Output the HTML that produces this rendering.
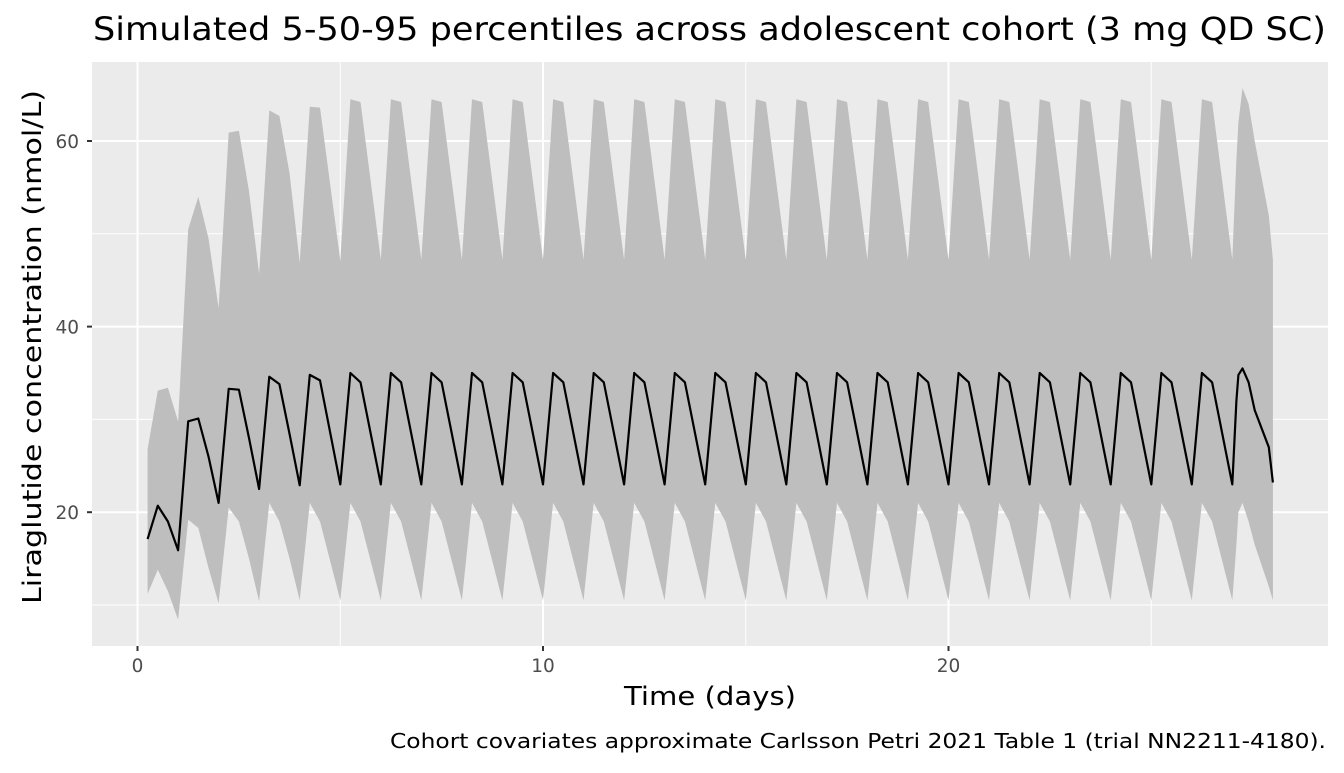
<!DOCTYPE html>
<html><head><meta charset="utf-8"><style>
body{margin:0;background:#fff;}
svg text{font-family:"DejaVu Sans","Liberation Sans",sans-serif;}
</style></head><body>
<svg id="s" width="1344" height="768" xmlns="http://www.w3.org/2000/svg">
<rect width="1344" height="768" fill="#fff"/>
<rect x="92" y="62" width="1236" height="584" fill="#ebebeb"/>
<g id="grid"></g>
<path id="band" fill="#bebebe"/>
<polyline id="med" fill="none" stroke="#000" stroke-width="2.2" stroke-linejoin="round"/>
<g id="ax" fill="#4d4d4d" font-size="18.5"></g>
<text x="93" y="40" font-size="32" fill="#000" textLength="1233" lengthAdjust="spacingAndGlyphs">Simulated 5-50-95 percentiles across adolescent cohort (3 mg QD SC)</text>
<text x="624" y="705" font-size="26" fill="#000" textLength="172" lengthAdjust="spacingAndGlyphs">Time (days)</text>
<text transform="translate(41,604) rotate(-90)" font-size="26" fill="#000" textLength="514" lengthAdjust="spacingAndGlyphs">Liraglutide concentration (nmol/L)</text>
<text x="390" y="748" font-size="20" fill="#000" textLength="936" lengthAdjust="spacingAndGlyphs">Cohort covariates approximate Carlsson Petri 2021 Table 1 (trial NN2211-4180).</text>
</svg>
<script>
var X=function(t){return 137.5+t*40.55},Y=function(v){return 141+(60-v)*9.28};
var g='';
[5,15,25].forEach(function(t){g+='<line x1="'+X(t)+'" x2="'+X(t)+'" y1="62" y2="646" stroke="#fff" stroke-width="1"/>'});
[10,30,50].forEach(function(v){g+='<line y1="'+Y(v)+'" y2="'+Y(v)+'" x1="92" x2="1328" stroke="#fff" stroke-width="1"/>'});
[0,10,20].forEach(function(t){g+='<line x1="'+X(t)+'" x2="'+X(t)+'" y1="62" y2="646" stroke="#fff" stroke-width="2"/>'});
[20,40,60].forEach(function(v){g+='<line y1="'+Y(v)+'" y2="'+Y(v)+'" x1="92" x2="1328" stroke="#fff" stroke-width="2"/>'});
document.getElementById('grid').innerHTML=g;
var a='';
[0,10,20].forEach(function(t){a+='<line x1="'+X(t)+'" x2="'+X(t)+'" y1="646" y2="651" stroke="#333" stroke-width="2"/><text x="'+X(t)+'" y="672" text-anchor="middle">'+t+'</text>'});
[20,40,60].forEach(function(v){a+='<line y1="'+Y(v)+'" y2="'+Y(v)+'" x1="87" x2="92" stroke="#333" stroke-width="2"/><text x="79" y="'+(Y(v)+7)+'" text-anchor="end">'+v+'</text>'});
document.getElementById('ax').innerHTML=a;
var d=[[0.25,11.2,17.1,26.8],[0.5,13.8,20.7,33.1],[0.75,11.5,19,33.4],[1,8.4,15.9,29.8],
[1.25,19.2,29.8,50.5],[1.5,18.3,30.1,54],[1.75,14,26,49.5],[2,10.2,21,42],
[2.25,20.5,33.3,60.9],[2.5,19,33.2,61.1],[2.75,15,28,54.6],[3,10.4,22.5,45.7],
[3.25,21,34.6,63.3],[3.5,19,33.8,62.7],[3.75,15,28.4,56.5],[4,10.5,22.9,46.9],
[4.25,21,34.8,63.7],[4.5,19,34.2,63.6],[5,10.5,23,47.1]];
for(var n=5;n<27;n++){d.push([n+0.25,21,35,64.5]);d.push([n+0.5,19,34,64.2]);d.push([n+1,10.5,23,47.2]);}
d.push([27.1,16.5,32,58],[27.15,20,34.8,62],[27.25,21,35.5,65.7],[27.4,19,34,64],[27.55,16.5,31,60],[27.9,12,27,52],[28,10.5,23.2,47.2]);
var up=d.map(function(p){return X(p[0]).toFixed(1)+','+Y(p[3]).toFixed(1)});
var lo=d.slice().reverse().map(function(p){return X(p[0]).toFixed(1)+','+Y(p[1]).toFixed(1)});
document.getElementById('band').setAttribute('d','M'+up.join('L')+'L'+lo.join('L')+'Z');
document.getElementById('med').setAttribute('points',d.map(function(p){return X(p[0]).toFixed(1)+','+Y(p[2]).toFixed(1)}).join(' '));
</script>
</body></html>
